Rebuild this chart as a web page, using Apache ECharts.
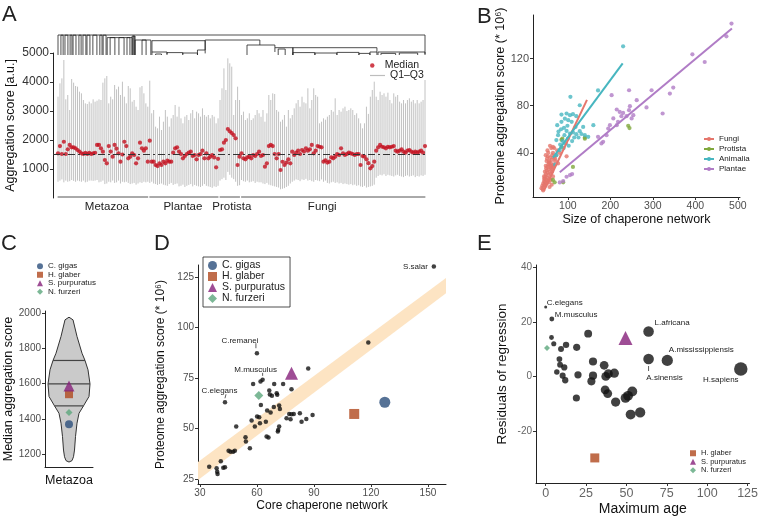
<!DOCTYPE html>
<html>
<head>
<meta charset="utf-8">
<script src="https://cdn.jsdelivr.net/npm/echarts@6.0.0/dist/echarts.min.js"></script>
<style>
html,body{margin:0;padding:0;background:#fff;}
#chart{width:761px;height:518px;}
</style>
</head>
<body>
<div id="chart"></div>
<script>
const FONT = '"Liberation Sans", Arial, Helvetica, sans-serif';
const TICKC = '#4D4D4D';

// ---------------- Panel A data ----------------
const aGroups = ['Metazoa', 'Plantae', 'Protista', 'Fungi'];
const aGroupSizes = [47, 36, 11, 95];
const aMedian = [
  // Metazoa (47)
  1540,1790,1517,1940,1517,1680,1830,1747,1747,1713,1655,1600,1540,1517,1560,1517,1560,1517,1540,1560,
  1830,1830,1713,1598,1310,1195,1790,1600,1425,1830,1700,1540,1253,1500,1940,1790,1368,1425,1540,1483,
  1195,1368,1908,1713,1632,1713,1253,
  // Plantae (36)
  1977,1253,1253,1138,1100,1195,1138,1253,1195,1287,1253,1253,1563,1713,1747,1600,1517,1368,1448,1517,
  1563,1598,1448,1483,1333,1483,1517,1632,1368,1540,1368,1425,1483,1400,1057,1350,
  // Protista (11)
  1655,1680,1908,2000,2380,2300,2240,2170,2057,1138,1425,
  // Fungi (95)
  1540,1368,1333,1402,1425,1368,1483,1448,1517,1598,1450,
  1483,1080,1195,1790,1830,1790,1517,1368,1517,965,1250,
  1138,1220,1333,1195,1598,1483,1563,1632,1517,1655,1600,
  1713,1632,1680,1830,1540,1632,1790,1767,1747,1253,1300,
  1220,1253,1402,1368,1425,1517,1483,1713,1540,1483,1520,
  1563,1540,1517,1483,1517,1517,1138,1448,1425,1333,1200,
  1023,1100,1253,1632,1747,1830,1767,1747,1713,1767,
  1747,1767,1790,1632,1598,1632,1680,1598,1563,1632,
  1655,1598,1563,1598,1563,1598,1632,1563,1790
];
const aQ1 = [
  560,600,640,540,600,560,580,620,590,560,600,580,560,600,540,560,600,600,590,600,
  620,540,560,600,480,500,560,540,600,520,540,600,500,560,540,560,520,480,500,520,
  460,500,540,520,560,540,560,
  520,560,500,480,450,480,500,460,440,420,480,520,450,480,500,400,420,460,380,420,
  450,480,400,450,420,400,380,420,480,420,400,380,350,400,380,420,
  600,650,700,620,900,800,700,650,560,420,440,
  620,580,560,600,540,560,580,520,560,540,540,
  500,480,520,460,440,420,400,380,360,300,320,
  340,380,420,500,560,600,640,620,580,640,620,
  660,600,620,580,560,620,600,580,640,560,600,
  520,500,540,560,520,540,500,520,480,500,480,
  460,480,440,460,420,440,400,380,420,360,380,
  400,420,460,700,760,800,780,820,760,800,
  780,760,740,780,800,760,740,720,760,780,
  740,760,780,720,760,740,780,760,800
];
const aQ3 = [
  3494,3954,4126,4759,3402,3552,3034,4103,3977,3862,3839,3667,3609,3379,3264,3241,3322,3264,3402,3322,
  3356,3402,3379,3977,4126,4207,3264,3494,3402,3897,3747,3839,3552,4011,3494,3264,3862,3782,3322,3379,
  3149,3034,3816,3862,3609,3264,3149,
  4046,2920,3034,2460,2402,2805,2345,2632,3034,2805,2460,2747,2862,3207,2805,3149,2747,2575,2805,2862,
  2690,2920,3034,2747,2977,2920,2805,3092,2862,2805,2862,2747,2862,2805,2575,2747,
  3379,3782,4471,3724,4816,4644,4529,2862,3379,3839,3379,
  2862,2977,2690,2747,2920,2690,2747,2862,3034,2920,2800,
  3034,2632,2920,3552,3379,3609,3586,3034,2977,2632,2700,
  2862,2460,3034,2747,2862,3092,3264,3379,3149,3494,3300,
  3264,3782,3092,3379,3782,3552,3494,2575,2632,2747,2700,
  2805,2862,3034,2977,3437,2862,3034,2977,3092,3149,3000,
  3034,3092,3034,2862,2920,2747,2575,2402,2575,3149,2900,
  3494,3724,4011,3494,3379,3667,3552,3609,3494,3632,
  3379,3264,3609,3494,3552,3322,3264,3379,3264,3379,
  3437,3322,3379,3264,3379,3264,3322,3379,4069
];
const aRefLine = 1520;
const aYTicks = [1000, 2000, 3000, 4000, 5000];
// dendrogram brackets: [xLeft, xRight, height, leftFoot, rightFoot]; x in per-mille of leaf span
const aDendro = [
  [0,1000,1.0,0,0],
  [8,14,0.99,0,0],[19,27,0.99,0,0],[33,38,0.99,0,0],[41,49,0.99,0,0],[57,63,0.99,0,0],
  [68,76,0.99,0,0],[79,87,0.99,0,0],[95,106,0.99,0,0],[114,120,0.99,0,0],[123,131,0.99,0,0],
  [134,202,0.87,0,0],[142,155,0.87,0,0],[166,180,0.87,0,0],[188,196,0.87,0,0],
  [202,210,0.95,0,0],[205,208,0.95,0,0],
  [210,253,0.75,0,0],[229,240,0.75,0,0],
  [256,401,0.715,0.15,0.25],
  [256,297,0.15,0,0.05],[266,282,0.05,0,0],[297,340,0.12,0,0],[340,380,0.1,0.03,0],[380,401,0.25,0,0.08],
  [401,550,0.75,0.25,0.5],
  [515,591,0.5,0,0.365],
  [591,869,0.365,0.15,0.15],[600,619,0.3,0,0],[640,640,0.365,0,0],
  [640,700,0.12,0,0],[700,760,0.1,0,0],[760,820,0.13,0,0],[820,850,0.08,0,0],[850,869,0.15,0,0],
  [872,1000,0.15,0,0.05],[880,920,0.08,0,0],[930,980,0.1,0,0]
];

// ---------------- Panel B data ----------------
const bFungiX = [38,40,41,42,43,44,45,45,46,47, 47,48,49,50,50,51,52,52,53,54, 55,55,56,57,58,58,59,60,60,61,
  62,63,64,65,66,67,68,70,72,75, 44,46,48,50,53,55,57,60,62,65, 42,45,49,51,54,56,59,63,67,70, 58,65,77,97,80,48,52,56,61,66];
const bFungiY = [10,12,9,14,11,16,13,18,15,20, 12,22,17,25,14,19,28,23,16,30, 21,26,33,18,24,36,29,22,31,27,
  34,38,26,40,30,36,44,33,38,42, 20,24,29,33,37,15,11,17,13,20, 8,18,27,35,40,31,28,24,29,35, 46,45,31,37,40,38,42,32,44,28];
const bProtistaX = [65,69,89,85,85,87,112,140,140,242,245];
const bProtistaY = [17,15,15,45,51,52,28,52,53,63,61];
const bAnimaliaX = [230,171,106,128,85,97,105,112,120,101, 93,109,85,75,136,160,91,97,105,112,
  120,128,140,148,73,77,73,81,88,95, 100,110,115,82,90,78,84,99,118,125, 132,102,92,70];
const bAnimaliaY = [130.4,93,87.5,80.4,72.5,73.4,72,72.8,71.1,67.7, 69,66.3,66.3,63.5,62,63.5,61.2,58.6,56.4,57.3,
  55.8,58.4,55,53.6,50.8,55,38,42.3,50,48, 52,50,53,47,44,58,60,63,62,53, 56,46,55,30];
const bPlantaeX = [485,473,393,422,348,297,340,244,203,262, 285,246,244,215,222,230,238,323,254,250,
  207,218,226,199,215,195,183,179,171,191, 81,89,97,105,110];
const bPlantaeY = [149.7,138.9,123.6,117.1,95.4,93.1,90.3,93.1,88.9,84.7, 78.5,79.6,76.2,76.8,74.7,73.9,71.1,73.4,72,69.2,
  69.2,66.3,71.1,63.5,63.5,60.6,49.3,48,53.6,55, 14.9,16,19.7,21.1,22];
const bFitFungi = [[44, 8], [145, 85]];
const bFitAnimalia = [[65, 36], [229, 116]];
const bFitPlantae = [[81, 23.6], [486, 145.6]];
const bXTicks = [100, 200, 300, 400, 500];
const bYTicks = [40, 80, 120];

// ---------------- Panel C data ----------------
const cViolinY = [1975,1960,1866,1771,1730,1677,1597,1526,1473,1431,1375,1299,1223,1185,1163,1155];
const cViolinHalfWidth = [0,4,8,13,16,19,21,20,14.5,10,8,6.5,5.5,4.5,3,0];
const cQuantiles = [1473, 1597, 1730];
const cSpeciesNames = ['C. gigas', 'H. glaber', 'S. purpuratus', 'N. furzeri'];
const cSpeciesValues = [1369, 1539, 1586, 1435];
const cYTicks = [1200, 1400, 1600, 1800, 2000];

// ---------------- Panel D data ----------------
const dX = [34.9,38.8,39.1,39.3,41,42.3,43.2,45.1,46.1,47.5, 48.4,43.2,49.1,54,54.2,56.3,57.2,58.9,60.1,61.2,
  61.6,62.1,64.7,65.1,66.1,65.4,67.2,68.9,66.8,70.7, 71.7,72.1,71.7,71.2,71,75.6,77,77.7,78.2,79.4,
  82.6,83.5,86,89.3,60,58,61.9,63,66.5,69.1, 70.4,67.9,73.8,78.2,87,118.6,153.1];
const dY = [31.1,30.3,28.6,27.5,33.8,30.6,30.8,39,38.5,38.5, 39,63,51,45.7,43.5,40.2,53.9,51,55.9,55.6,
  52.6,61.6,53.3,46,45.5,58.9,57.9,60.6,66.8,66.7, 61.4,59.6,51,49.3,48.5,55.1,57.2,54.6,57.1,57.2,
  57.6,53.4,54.7,56.7,87.3,72,73.3,74.1,68.8,72.1, 67.5,66.2,72.1,69.5,79.7,92.6,130.2];
const dSpeciesX = [127.3, 111.2, 78.2, 61];
const dSpeciesY = [63, 57.2, 77.4, 66.3];
const dBandX = [29, 159.5];
const dBandLow = [24.5, 117];
const dBandHigh = [33.4, 124.5];
const dLabelNames = ['S.salar', 'C.remanei', 'M.musculus', 'C.elegans'];
const dLabelX = [153.1, 60, 63, 43.2];
const dLabelY = [130.2, 87.3, 74.1, 63];
const dXTicks = [30, 60, 90, 120, 150];
const dYTicks = [25, 50, 75, 100, 125];

// ---------------- Panel E data ----------------
const eX = [0,3.8,3.6,5,12.6,9.5,19.2,26.3,8.5,8.9, 11.5,6.9,10.5,12.1,20,19,29.3,29.3,28.3,36.2,
  37.2,36.8,38.4,63.7,63.7,75.3,120.8,38.8,42.5,43.3, 49.4,51,53.6,52.6,58.5];
const eY = [25.6,21.2,14.4,12.1,11.7,10.2,10.8,15.8,6.5,4.4, 3.4,1.7,0.4,-1.3,0.7,-7.8,5.6,0.4,-1.7,4.2,
  0.1,-4.8,-6.2,16.6,6.5,6,2.8,1.1,1.3,-9.3, -7.8,-7,-5.4,-13.9,-13.1];
const eSpeciesNames = ['H. glaber', 'S. purpuratus', 'N. furzeri'];
const eSpeciesX = [30.4, 49.4, 0.8];
const eSpeciesY = [-29.8, 14.2, 10.5];
const eLabelNames = ['C.elegans', 'M.musculus', 'L.africana', 'A.mississippiensis', 'A.sinensis', 'H.sapiens'];
const eLabelX = [0, 3.8, 63.7, 75.3, 63.7, 120.8];
const eLabelY = [25.6, 21.2, 16.6, 6, 6.5, 2.8];
const eXTicks = [0, 25, 50, 75, 100, 125];
const eYTicks = [-20, 0, 20, 40];

// ---------------- styles ----------------
const SPECIES_COLOR = {'C. gigas':'#2C4F7C', 'H. glaber':'#B0491E', 'S. purpuratus':'#86207A', 'N. furzeri':'#5BA67C'};
const SPECIES_SYMBOL = {'C. gigas':'circle', 'H. glaber':'rect', 'S. purpuratus':'triangle', 'N. furzeri':'diamond'};
const KING_COLOR = {Fungi:'#E5766C', Protista:'#80A83C', Animalia:'#47B6C0', Plantae:'#B07CC6'};
const GROUP_LABEL_SHIFT = {Metazoa:4, Plantae:-1, Protista:2, Fungi:-11};

const dLabelCfg = {
  'S.salar': {dx:-6, dy:0, align:'right'},
  'C.remanei': {dx:-17, dy:-12, align:'center', seg:[-1,-10,-1,-5]},
  'M.musculus': {dx:-7, dy:-10, align:'center', seg:[0,-7,0,-4]},
  'C.elegans': {dx:-5.5, dy:-11, align:'center', seg:[1,-8,0,-4]}
};
const eLabelCfg = {
  'C.elegans': {dx:1, dy:-4.5, align:'left'},
  'M.musculus': {dx:3, dy:-4.5, align:'left'},
  'L.africana': {dx:6, dy:-9, align:'left'},
  'A.mississippiensis': {dx:34, dy:-11, align:'center'},
  'A.sinensis': {dx:16, dy:19, align:'center', seg:[0,7,0,12]},
  'H.sapiens': {dx:-20, dy:11, align:'center'}
};

const plain = v => String(v);
function axisBase(extra) {
  return Object.assign({
    axisLine: {show:true, onZero:false, lineStyle:{color:'#222', width:1}},
    axisTick: {show:true, length:3, lineStyle:{color:'#333'}},
    axisLabel: {color:TICKC, fontFamily:FONT, fontSize:10, margin:4},
    splitLine: {show:false},
    nameTextStyle: {color:'#111', fontFamily:FONT, fontSize:12.5}
  }, extra);
}
function withTicks(ax, ticks, labelOpts) {
  ax.axisLabel = Object.assign({}, ax.axisLabel, labelOpts || {}, {customValues: ticks, formatter: plain});
  ax.axisTick = Object.assign({}, ax.axisTick, {customValues: ticks});
  return ax;
}
function labelSeries(xi, yi, names, xs, ys, cfg) {
  return {
    type:'custom', xAxisIndex:xi, yAxisIndex:yi, silent:true, z:6,
    data: names.map((n, i) => [xs[i], ys[i], i]),
    renderItem(params, api) {
      const i = api.value(2);
      const p = api.coord([api.value(0), api.value(1)]);
      const c = cfg[names[i]];
      const ch = [{type:'text', style:{text:names[i], x:p[0]+c.dx, y:p[1]+c.dy, align:c.align,
        verticalAlign:'middle', fontSize:8, fontFamily:FONT, fill:'#222'}}];
      if (c.seg) ch.push({type:'line', shape:{x1:p[0]+c.seg[0], y1:p[1]+c.seg[1], x2:p[0]+c.seg[2], y2:p[1]+c.seg[3]},
        style:{stroke:'#333', lineWidth:0.8}});
      return {type:'group', children:ch};
    }
  };
}

// ---------------- layout derived ----------------
const N = aMedian.length;
const aLeft = 53, aWidth = 375, aFirstPx = 58, aLastPx = 425;
const aStep = (aLastPx - aFirstPx) / (N - 1);
const aXMin = -(aFirstPx - aLeft) / aStep;
const aXMax = (N - 1) + (aLeft + aWidth - aLastPx) / aStep;
const aGroupRanges = [];
{ let s = 0; aGroupSizes.forEach(n => { aGroupRanges.push([s, s + n - 1]); s += n; }); }

const grids = [
  {left:aLeft, top:53, width:aWidth, height:145},   // 0 A main
  {left:aLeft, top:35, width:aWidth, height:20},    // 1 A dendrogram
  {left:533, top:15, width:207, height:182},        // 2 B
  {left:45, top:311, width:48, height:156},         // 3 C
  {left:198, top:265, width:248, height:219},       // 4 D
  {left:536, top:265, width:218, height:218}        // 5 E
];

const xAxes = [
  {gridIndex:0, type:'value', min:aXMin, max:aXMax, show:false},
  {gridIndex:1, type:'value', min:-(aFirstPx-aLeft)/(aLastPx-aFirstPx)*1000, max:1000+(aLeft+aWidth-aLastPx)/(aLastPx-aFirstPx)*1000, show:false},
  withTicks(axisBase({gridIndex:2, type:'value', min:18, max:505, name:'Size of chaperone network', nameLocation:'middle', nameGap:14,
    nameTextStyle:{color:'#111', fontFamily:FONT, fontSize:12.5}}), bXTicks, {fontSize:10.5}),
  axisBase({gridIndex:3, type:'category', data:['Metazoa'], axisTick:{show:false},
    axisLabel:{color:'#111', fontFamily:FONT, fontSize:12.5, margin:7}}),
  withTicks(axisBase({gridIndex:4, type:'value', min:29, max:159.5, name:'Core chaperone network', nameLocation:'middle', nameGap:16,
    nameTextStyle:{color:'#111', fontFamily:FONT, fontSize:12}}), dXTicks, {fontSize:10}),
  withTicks(axisBase({gridIndex:5, type:'value', min:-6, max:126.2, name:'Maximum age', nameLocation:'middle', nameGap:19,
    nameTextStyle:{color:'#111', fontFamily:FONT, fontSize:14}}), eXTicks, {fontSize:12.5, color:'#666'})
];
const yAxes = [
  withTicks(axisBase({gridIndex:0, type:'value', min:0, max:5000, name:'Aggregation score [a.u.]', nameLocation:'middle', nameGap:36,
    nameTextStyle:{color:'#111', fontFamily:FONT, fontSize:12.5}}), aYTicks, {fontSize:12, color:'#333'}),
  {gridIndex:1, type:'value', min:0, max:1, show:false},
  withTicks(axisBase({gridIndex:2, type:'value', min:2.5, max:157, name:'Proteome aggregation score (* 10\u2076)', nameLocation:'middle', nameGap:20,
    nameTextStyle:{color:'#111', fontFamily:FONT, fontSize:12.5}}), bYTicks, {fontSize:11}),
  withTicks(axisBase({gridIndex:3, type:'value', min:1127, max:2010, name:'Median aggregation score', nameLocation:'middle', nameGap:26,
    nameTextStyle:{color:'#111', fontFamily:FONT, fontSize:12.5}}), cYTicks, {fontSize:10}),
  withTicks(axisBase({gridIndex:4, type:'value', min:22.5, max:131, name:'Proteome aggregation score (* 10\u2076)', nameLocation:'middle', nameGap:31,
    nameTextStyle:{color:'#111', fontFamily:FONT, fontSize:12}}), dYTicks, {fontSize:10}),
  withTicks(axisBase({gridIndex:5, type:'value', min:-39, max:41, name:'Residuals of regression', nameLocation:'middle', nameGap:27,
    nameTextStyle:{color:'#111', fontFamily:FONT, fontSize:13.5}}), eYTicks, {fontSize:10, color:'#666'})
];

const series = [];
// ---- A ----
series.push({
  type:'custom', name:'Q1\u2013Q3', xAxisIndex:0, yAxisIndex:0, silent:true,
  itemStyle:{color:'#BDBDBD'},
  data: aQ1.map((v, i) => [i, v, aQ3[i]]),
  renderItem(params, api) {
    const p1 = api.coord([api.value(0), api.value(1)]);
    const p2 = api.coord([api.value(0), api.value(2)]);
    return {type:'line', shape:{x1:p1[0], y1:p1[1], x2:p2[0], y2:p2[1]}, style:{stroke:'#C2C2C2', lineWidth:1}};
  }
});
series.push({
  type:'scatter', name:'Median', xAxisIndex:0, yAxisIndex:0, symbolSize:4.2, silent:true, z:4,
  itemStyle:{color:'#C4101F'},
  data: aMedian.map((v, i) => [i, v]),
  markLine: {silent:true, symbol:'none', label:{show:false}, animation:false,
    lineStyle:{color:'#333', type:[7,3,2,3], width:1}, data:[{yAxis:aRefLine}]}
});
series.push({
  type:'custom', xAxisIndex:0, yAxisIndex:0, silent:true,
  data: aGroups.map((g, k) => [aGroupRanges[k][0], aGroupRanges[k][1], k]),
  renderItem(params, api) {
    const k = api.value(2);
    const p1 = api.coord([api.value(0) - 0.2, 0]);
    const p2 = api.coord([api.value(1) + 0.2, 0]);
    const y = p1[1] - 1;
    return {type:'group', children:[
      {type:'line', shape:{x1:p1[0], y1:y, x2:p2[0], y2:y}, style:{stroke:'#555', lineWidth:1}},
      {type:'text', style:{text:aGroups[k], x:(p1[0]+p2[0])/2 + GROUP_LABEL_SHIFT[aGroups[k]], y:y+10, align:'center', verticalAlign:'middle',
        fontSize:11.5, fontFamily:FONT, fill:'#222'}}
    ]};
  }
});
series.push({
  type:'custom', xAxisIndex:1, yAxisIndex:1, silent:true,
  data: aDendro,
  renderItem(params, api) {
    const x1 = api.value(0), x2 = api.value(1), h = api.value(2), hl = api.value(3), hr = api.value(4);
    return {type:'polyline', shape:{points:[api.coord([x1,hl]), api.coord([x1,h]), api.coord([x2,h]), api.coord([x2,hr])]},
      style:{stroke:'#222', lineWidth:0.8, fill:null}};
  }
});
// ---- B ----
const kingdoms = [['Fungi', bFungiX, bFungiY, bFitFungi], ['Protista', bProtistaX, bProtistaY, null],
  ['Animalia', bAnimaliaX, bAnimaliaY, bFitAnimalia], ['Plantae', bPlantaeX, bPlantaeY, bFitPlantae]];
kingdoms.forEach(([nm, xs, ys]) => {
  series.push({type:'scatter', name:nm + ' points', xAxisIndex:2, yAxisIndex:2, symbolSize:4.2, silent:true,
    itemStyle:{color:KING_COLOR[nm]}, data: xs.map((x, i) => [x, ys[i]])});
});
kingdoms.forEach(([nm, xs, ys, fit]) => {
  series.push({type:'line', name:nm, xAxisIndex:2, yAxisIndex:2, symbol:'circle', symbolSize:4, showSymbol:false, silent:true,
    lineStyle:{color:KING_COLOR[nm], width:2}, itemStyle:{color:KING_COLOR[nm]}, data: fit ? fit : []});
});
// ---- C ----
series.push({
  type:'custom', xAxisIndex:3, yAxisIndex:3, silent:true,
  data:[[0]],
  renderItem(params, api) {
    const right = [], left = [];
    for (let j = 0; j < cViolinY.length; j++) {
      const p = api.coord([0, cViolinY[j]]);
      right.push([p[0] + cViolinHalfWidth[j], p[1]]);
      left.unshift([p[0] - cViolinHalfWidth[j], p[1]]);
    }
    const ch = [{type:'polygon', shape:{points:right.concat(left)}, style:{fill:'#CACACA', stroke:'#333', lineWidth:1}}];
    cQuantiles.forEach(q => {
      let w = 0;
      for (let j = 0; j < cViolinY.length - 1; j++) {
        const a = cViolinY[j], b = cViolinY[j+1];
        if (q <= a && q >= b) { const t = (a - q) / (a - b); w = cViolinHalfWidth[j] + t * (cViolinHalfWidth[j+1] - cViolinHalfWidth[j]); break; }
      }
      const p = api.coord([0, q]);
      ch.push({type:'line', shape:{x1:p[0]-w, y1:p[1], x2:p[0]+w, y2:p[1]}, style:{stroke:'#444', lineWidth:1.2}});
    });
    return {type:'group', children:ch};
  }
});
const cSizes = {'C. gigas':8, 'H. glaber':8, 'S. purpuratus':11, 'N. furzeri':7};
cSpeciesNames.forEach((nm, k) => {
  series.push({type:'scatter', name:nm, xAxisIndex:3, yAxisIndex:3, symbol:SPECIES_SYMBOL[nm], symbolSize:cSizes[nm], silent:true, z:5,
    itemStyle:{color:SPECIES_COLOR[nm]}, data:[['Metazoa', cSpeciesValues[k]]]});
});
// ---- D ----
series.push({
  type:'custom', xAxisIndex:4, yAxisIndex:4, silent:true, z:1,
  data:[[0]],
  renderItem(params, api) {
    const pts = [];
    for (let j = 0; j < dBandX.length; j++) pts.push(api.coord([dBandX[j], dBandLow[j]]));
    for (let j = dBandX.length - 1; j >= 0; j--) pts.push(api.coord([dBandX[j], dBandHigh[j]]));
    return {type:'polygon', shape:{points:pts}, style:{fill:'#FDE4C3'}};
  }
});
series.push({type:'scatter', xAxisIndex:4, yAxisIndex:4, symbolSize:4.5, silent:true, z:3,
  itemStyle:{color:'#111'}, data: dX.map((x, i) => [x, dY[i]])});
const dSizes = {'C. gigas':11, 'H. glaber':10, 'S. purpuratus':13, 'N. furzeri':9};
cSpeciesNames.forEach((nm, k) => {
  series.push({type:'scatter', name:nm, xAxisIndex:4, yAxisIndex:4, symbol:SPECIES_SYMBOL[nm], symbolSize:dSizes[nm], silent:true, z:4,
    itemStyle:{color:SPECIES_COLOR[nm]}, data:[[dSpeciesX[k], dSpeciesY[k]]]});
});
series.push(labelSeries(4, 4, dLabelNames, dLabelX, dLabelY, dLabelCfg));
// ---- E ----
series.push({type:'scatter', xAxisIndex:5, yAxisIndex:5, silent:true, z:3,
  symbolSize: v => 3 + 0.95 * Math.sqrt(Math.max(0, v[0])),
  itemStyle:{color:'#111'}, data: eX.map((x, i) => [x, eY[i]])});
const eSizes = {'H. glaber':9, 'S. purpuratus':14, 'N. furzeri':6};
eSpeciesNames.forEach((nm, k) => {
  series.push({type:'scatter', name:nm, xAxisIndex:5, yAxisIndex:5, symbol:SPECIES_SYMBOL[nm], symbolSize:eSizes[nm], silent:true, z:4,
    itemStyle:{color:SPECIES_COLOR[nm]}, data:[[eSpeciesX[k], eSpeciesY[k]]]});
});
series.push(labelSeries(5, 5, eLabelNames, eLabelX, eLabelY, eLabelCfg));

const legendText = (fs, extra) => Object.assign({color:'#222', fontFamily:FONT, fontSize:fs}, extra || {});
const legends = [
  {data:['Median'], left:370, top:60, orient:'vertical', padding:0, itemWidth:15, itemHeight:4.5, selectedMode:false,
    textStyle:legendText(10.5)},
  {data:['Q1\u2013Q3'], left:370, top:70, orient:'vertical', padding:0, itemWidth:15, itemHeight:1.2, icon:'rect', selectedMode:false,
    textStyle:legendText(10.5)},
  {data:['Fungi','Protista','Animalia','Plantae'], left:703, top:134, orient:'vertical', padding:0, itemGap:0,
    itemWidth:10, itemHeight:5, selectedMode:false, textStyle:legendText(8, {lineHeight:10})},
  {data:cSpeciesNames, left:37, top:262, orient:'vertical', padding:0, itemGap:0, itemWidth:6, itemHeight:6,
    selectedMode:false, textStyle:legendText(8, {lineHeight:8.5})},
  {data:cSpeciesNames, left:203, top:257, orient:'vertical', padding:[3,5,3,5], itemGap:0, itemWidth:9, itemHeight:9,
    borderColor:'#222', borderWidth:0.8, borderRadius:0, selectedMode:false, textStyle:legendText(10.5, {lineHeight:9.6})},
  {data:eSpeciesNames, left:690, top:449, orient:'vertical', padding:0, itemGap:0, itemWidth:6, itemHeight:6,
    selectedMode:false, textStyle:legendText(7.5, {lineHeight:8.5})}
];

const letter = (t, l, tp) => ({text:t, left:l, top:tp, padding:0, textStyle:{fontSize:22, fontWeight:'normal', color:'#222', fontFamily:FONT}});
const option = {
  backgroundColor:'#fff',
  animation:false,
  textStyle:{fontFamily:FONT},
  title:[letter('A', 2, 4), letter('B', 477, 6), letter('C', 1, 233), letter('D', 154, 233), letter('E', 477, 233)],
  grid:grids, xAxis:xAxes, yAxis:yAxes, legend:legends, series:series
};
const chart = echarts.init(document.getElementById('chart'), null, {renderer:'canvas'});
chart.setOption(option);
</script>
</body>
</html>
